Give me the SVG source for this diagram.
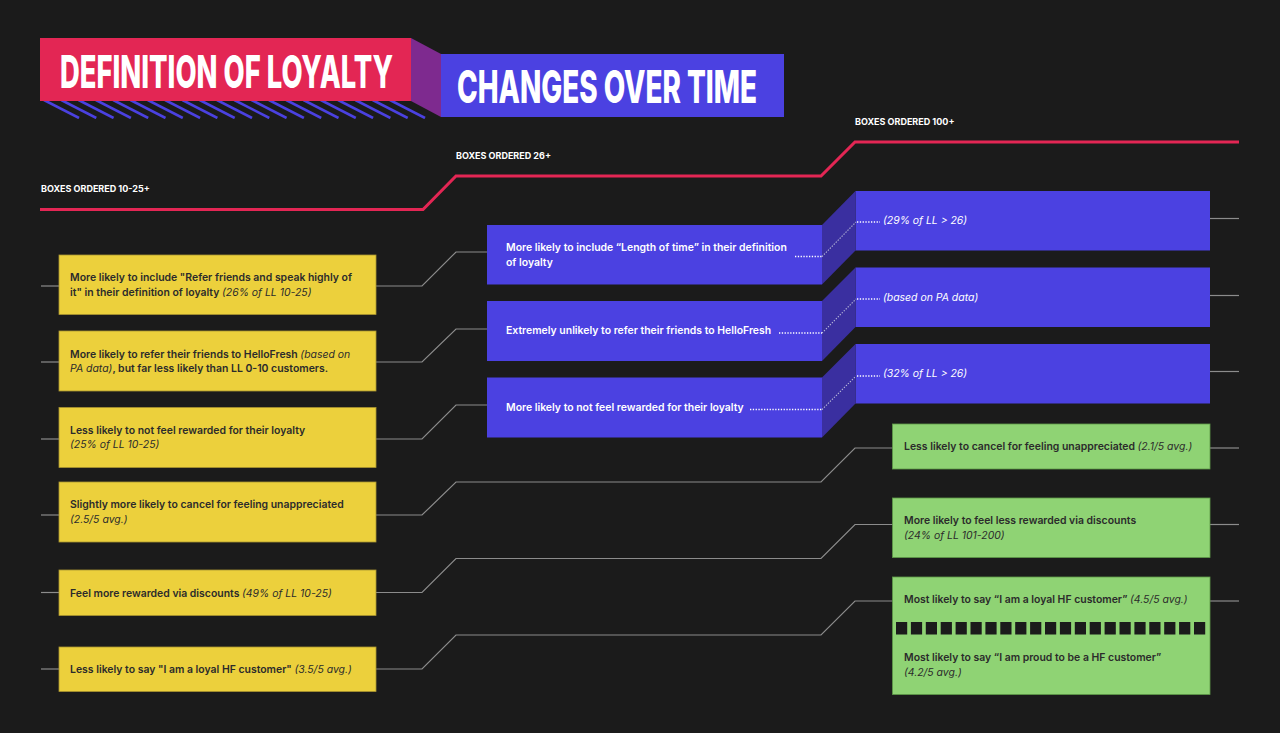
<svg xmlns="http://www.w3.org/2000/svg" width="1280" height="733" viewBox="0 0 1280 733">
<style>
.t{font-family:Inter,"Noto Sans",sans-serif;font-size:10.45px;font-weight:600}
.dk{fill:#2b2b2b}
.wt{fill:#ffffff}
.it{font-style:italic;font-weight:400}
.yb{fill:#ecd03c;stroke:#a89330;stroke-width:0.8}
.gb{fill:#8fd374;stroke:#5e9a48;stroke-width:0.8}
.pb{fill:#4b41e1}
.ps{fill:#3a2fa0}
.cn{fill:none;stroke:#8c8c8c;stroke-width:1.2}
.dot{fill:none;stroke:#ffffff;stroke-width:1.3;stroke-dasharray:1.3 1.5}
.dotg{fill:none;stroke:#b8b8d8;stroke-width:1.1;stroke-dasharray:1.3 1.5}
.hd{font-family:Inter,"Noto Sans",sans-serif;font-size:9px;font-weight:700;fill:#ffffff}
.ti{font-family:Inter,Roboto,"Liberation Sans",sans-serif;font-weight:800;font-size:45px;fill:#ffffff}
.st{stroke:#4b41e1;stroke-width:2.6}
</style>
<rect width="1280" height="733" fill="#1b1b1b"/>

<g id="title">
  <clipPath id="stripeclip"><rect x="40" y="101" width="400" height="18"/></clipPath>
  <g clip-path="url(#stripeclip)" class="st">
    <line x1="44" y1="100" x2="79" y2="118"/>
    <line x1="61.3" y1="100" x2="96.3" y2="118"/>
    <line x1="78.6" y1="100" x2="113.6" y2="118"/>
    <line x1="95.9" y1="100" x2="130.9" y2="118"/>
    <line x1="113.2" y1="100" x2="148.2" y2="118"/>
    <line x1="130.5" y1="100" x2="165.5" y2="118"/>
    <line x1="147.8" y1="100" x2="182.8" y2="118"/>
    <line x1="165.1" y1="100" x2="200.1" y2="118"/>
    <line x1="182.4" y1="100" x2="217.4" y2="118"/>
    <line x1="199.7" y1="100" x2="234.7" y2="118"/>
    <line x1="217" y1="100" x2="252" y2="118"/>
    <line x1="234.3" y1="100" x2="269.3" y2="118"/>
    <line x1="251.6" y1="100" x2="286.6" y2="118"/>
    <line x1="268.9" y1="100" x2="303.9" y2="118"/>
    <line x1="286.2" y1="100" x2="321.2" y2="118"/>
    <line x1="303.5" y1="100" x2="338.5" y2="118"/>
    <line x1="320.8" y1="100" x2="355.8" y2="118"/>
    <line x1="338.1" y1="100" x2="373.1" y2="118"/>
    <line x1="355.4" y1="100" x2="390.4" y2="118"/>
    <line x1="372.7" y1="100" x2="407.7" y2="118"/>
    <line x1="390" y1="100" x2="425" y2="118"/>
  </g>
  <rect x="40" y="38" width="371" height="63" fill="#e32654"/>
  <polygon points="411,38 441,54 441,117 411,101" fill="#7e2a8f"/>
  <rect x="441" y="54" width="343" height="63" fill="#4b41e1"/>
  <text class="ti" transform="translate(60 88) scale(0.5 1)" x="0" y="0" textLength="666" lengthAdjust="spacingAndGlyphs">DEFINITION OF LOYALTY</text>
  <text class="ti" transform="translate(457 103) scale(0.5 1)" x="0" y="0" textLength="600" lengthAdjust="spacingAndGlyphs">CHANGES OVER TIME</text>
</g>

<g id="timeline">
  <polyline points="40,209.5 423,209.5 456,176 821,176 855,142 1239,142" fill="none" stroke="#e32654" stroke-width="3"/>
  <text class="hd" x="41" y="192">BOXES ORDERED 10-25+</text>
  <text class="hd" x="456" y="159">BOXES ORDERED 26+</text>
  <text class="hd" x="855" y="125">BOXES ORDERED 100+</text>
</g>

<g id="connectors">
  <line class="cn" x1="41" y1="286" x2="59" y2="286"/>
  <line class="cn" x1="41" y1="362" x2="59" y2="362"/>
  <line class="cn" x1="41" y1="439" x2="59" y2="439"/>
  <line class="cn" x1="41" y1="515" x2="59" y2="515"/>
  <line class="cn" x1="41" y1="592.5" x2="59" y2="592.5"/>
  <line class="cn" x1="41" y1="669" x2="59" y2="669"/>
  <polyline class="cn" points="376,286 422,286 456,252 487,252"/>
  <polyline class="cn" points="376,362 422,362 456,329 487,329"/>
  <polyline class="cn" points="376,439 422,439 456,405 487,405"/>
  <polyline class="cn" points="376,515 422,515 456,482 821,482 855,448 893,448"/>
  <polyline class="cn" points="376,592.5 422,592.5 456,558.5 821,558.5 855,524.5 893,524.5"/>
  <polyline class="cn" points="376,669 422,669 456,635 821,635 855,601 893,601"/>
  <line class="cn" x1="1210" y1="218.5" x2="1239" y2="218.5"/>
  <line class="cn" x1="1210" y1="295.5" x2="1239" y2="295.5"/>
  <line class="cn" x1="1210" y1="371.5" x2="1239" y2="371.5"/>
  <line class="cn" x1="1210" y1="448" x2="1239" y2="448"/>
  <line class="cn" x1="1210" y1="524.5" x2="1239" y2="524.5"/>
  <line class="cn" x1="1210" y1="601" x2="1239" y2="601"/>
</g>

<g id="yellow-1">
  <rect class="yb" x="59" y="255" width="317" height="59.5"/>
  <text class="t dk" x="70" y="280.5">More likely to include "Refer friends and speak highly of</text>
  <text class="t dk" x="70" y="295.5">it" in their definition of loyalty <tspan class="it">(26% of LL 10-25)</tspan></text>
</g>
<g id="yellow-2">
  <rect class="yb" x="59" y="331" width="317" height="60"/>
  <text class="t dk" x="70" y="357.5">More likely to refer their friends to HelloFresh <tspan class="it">(based on</tspan></text>
  <text class="t dk" x="70" y="372"><tspan class="it">PA data)</tspan>, but far less likely than LL 0-10 customers.</text>
</g>
<g id="yellow-3">
  <rect class="yb" x="59" y="407.5" width="317" height="60"/>
  <text class="t dk" x="70" y="433.5">Less likely to not feel rewarded for their loyalty</text>
  <text class="t dk it" x="70" y="448">(25% of LL 10-25)</text>
</g>
<g id="yellow-4">
  <rect class="yb" x="59" y="482" width="317" height="60"/>
  <text class="t dk" x="70" y="508">Slightly more likely to cancel for feeling unappreciated</text>
  <text class="t dk it" x="70" y="523">(2.5/5 avg.)</text>
</g>
<g id="yellow-5">
  <rect class="yb" x="59" y="570" width="317" height="45.5"/>
  <text class="t dk" x="70" y="596.5">Feel more rewarded via discounts <tspan class="it">(49% of LL 10-25)</tspan></text>
</g>
<g id="yellow-6">
  <rect class="yb" x="59" y="647" width="317" height="44.5"/>
  <text class="t dk" x="70" y="673">Less likely to say "I am a loyal HF customer" <tspan class="it">(3.5/5 avg.)</tspan></text>
</g>

<g id="purple-1">
  <rect class="pb" x="855.5" y="191" width="354.5" height="59.5"/>
  <polygon class="ps" points="822,225 855.5,191 855.5,250.5 822,284.5"/>
  <rect class="pb" x="487" y="225" width="335" height="59.5"/>
  <text class="t wt" x="506" y="251">More likely to include “Length of time” in their definition</text>
  <text class="t wt" x="506" y="266">of loyalty</text>
  <polyline class="dot" points="795,256.5 822,256.5"/>
  <polyline class="dotg" points="822,256.5 856,222"/>
  <polyline class="dot" points="857,222 880,222"/>
  <text class="t wt it" x="883" y="224">(29% of LL &gt; 26)</text>
</g>
<g id="purple-2">
  <rect class="pb" x="855.5" y="267.5" width="354.5" height="59.5"/>
  <polygon class="ps" points="822,301 855.5,267.5 855.5,327 822,361"/>
  <rect class="pb" x="487" y="301" width="335" height="60"/>
  <text class="t wt" x="506" y="334">Extremely unlikely to refer their friends to HelloFresh</text>
  <polyline class="dot" points="779,333 822,333"/>
  <polyline class="dotg" points="822,333 856,299"/>
  <polyline class="dot" points="857,299 880,299"/>
  <text class="t wt it" x="883" y="300.5">(based on PA data)</text>
</g>
<g id="purple-3">
  <rect class="pb" x="855.5" y="344" width="354.5" height="59.5"/>
  <polygon class="ps" points="822,377.5 855.5,344 855.5,403.5 822,437.5"/>
  <rect class="pb" x="487" y="377.5" width="335" height="60"/>
  <text class="t wt" x="506" y="411">More likely to not feel rewarded for their loyalty</text>
  <polyline class="dot" points="750,409.5 822,409.5"/>
  <polyline class="dotg" points="822,409.5 856,376"/>
  <polyline class="dot" points="857,376 880,376"/>
  <text class="t wt it" x="883" y="376.5">(32% of LL &gt; 26)</text>
</g>

<g id="green-1">
  <rect class="gb" x="892.5" y="424" width="317.5" height="45"/>
  <text class="t dk" x="904" y="450">Less likely to cancel for feeling unappreciated <tspan class="it">(2.1/5 avg.)</tspan></text>
</g>
<g id="green-2">
  <rect class="gb" x="892.5" y="498" width="317.5" height="59.5"/>
  <text class="t dk" x="904" y="523.5">More likely to feel less rewarded via discounts</text>
  <text class="t dk it" x="904" y="539">(24% of LL 101-200)</text>
</g>
<g id="green-3">
  <rect class="gb" x="892.5" y="577" width="317.5" height="117.5"/>
  <text class="t dk" x="904" y="603">Most likely to say “I am a loyal HF customer” <tspan class="it">(4.5/5 avg.)</tspan></text>
  <g fill="#1b1b1b">
    <rect x="896" y="622" width="11.2" height="12.5"/><rect x="910.9" y="622" width="11.2" height="12.5"/><rect x="925.8" y="622" width="11.2" height="12.5"/><rect x="940.7" y="622" width="11.2" height="12.5"/><rect x="955.6" y="622" width="11.2" height="12.5"/><rect x="970.5" y="622" width="11.2" height="12.5"/><rect x="985.4" y="622" width="11.2" height="12.5"/><rect x="1000.3" y="622" width="11.2" height="12.5"/><rect x="1015.2" y="622" width="11.2" height="12.5"/><rect x="1030.1" y="622" width="11.2" height="12.5"/><rect x="1045" y="622" width="11.2" height="12.5"/><rect x="1059.9" y="622" width="11.2" height="12.5"/><rect x="1074.8" y="622" width="11.2" height="12.5"/><rect x="1089.7" y="622" width="11.2" height="12.5"/><rect x="1104.6" y="622" width="11.2" height="12.5"/><rect x="1119.5" y="622" width="11.2" height="12.5"/><rect x="1134.4" y="622" width="11.2" height="12.5"/><rect x="1149.3" y="622" width="11.2" height="12.5"/><rect x="1164.2" y="622" width="11.2" height="12.5"/><rect x="1179.1" y="622" width="11.2" height="12.5"/><rect x="1194" y="622" width="11.2" height="12.5"/>
  </g>
  <text class="t dk" x="904" y="661">Most likely to say “I am proud to be a HF customer”</text>
  <text class="t dk it" x="904" y="676">(4.2/5 avg.)</text>
</g>
</svg>
